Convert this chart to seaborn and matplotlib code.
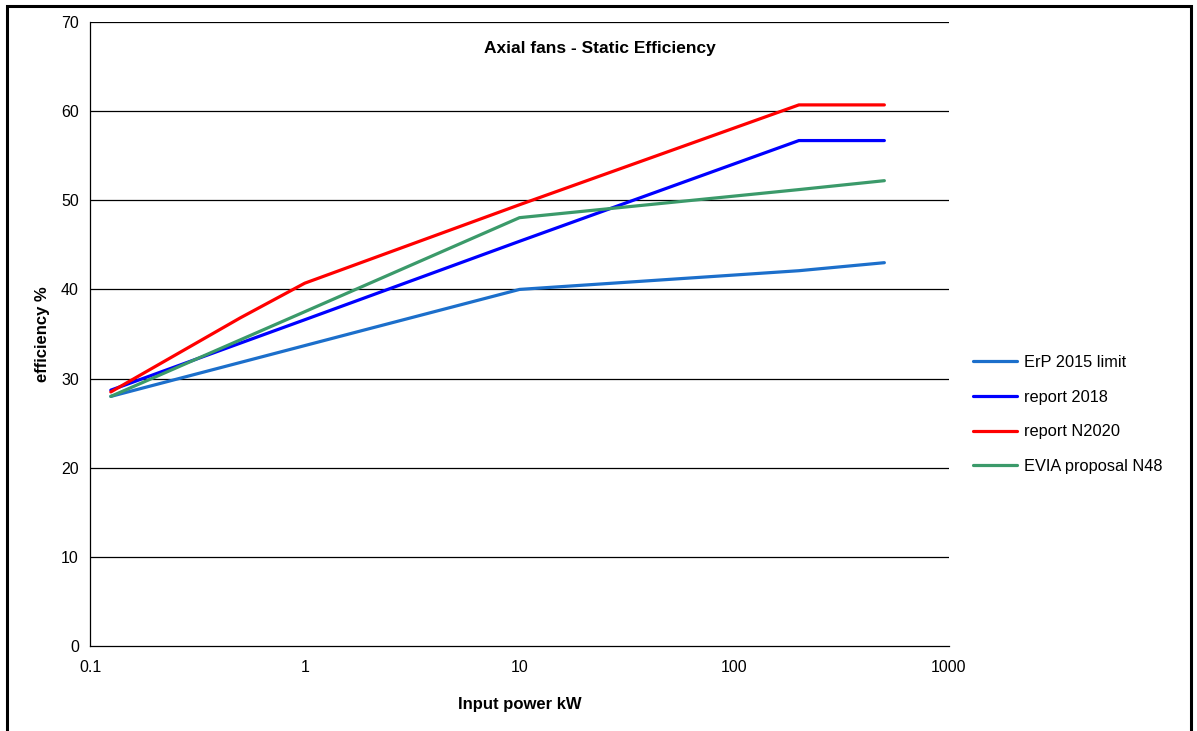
import numpy as np
import pandas as pd
import matplotlib
matplotlib.use("Agg")
import matplotlib.pyplot as plt
from matplotlib.patches import Rectangle
from matplotlib.ticker import FixedLocator, FixedFormatter, NullLocator
import seaborn as sns

# ---- data ----
erp_x = [0.125, 1, 2, 10, 200, 500]
erp_y = [28.0, 33.7, 35.6, 40.0, 42.1, 43.0]

r2018_x = [0.125, 1, 10, 200, 500]
r2018_y = [28.7, 36.6, 45.4, 56.7, 56.7]

n2020_x = [0.125, 0.5, 1, 10, 200, 500]
n2020_y = [28.5, 36.8, 40.7, 49.5, 60.7, 60.7]

evia_x = [0.125, 1, 10, 200, 500]
evia_y = [28.0, 37.5, 48.05, 51.2, 52.2]

series_names = ["ErP 2015 limit", "report 2018", "report N2020", "EVIA proposal N48"]
series_colors = ["#1C6FCB", "#0000FF", "#FF0000", "#3B9A6A"]

x_ticks = [0.1, 1, 10, 100, 1000]
x_tick_labels = ["0.1", "1", "10", "100", "1000"]
y_ticks = [0, 10, 20, 30, 40, 50, 60, 70]

frames = []
for name, xs, ys in zip(series_names,
                        [erp_x, r2018_x, n2020_x, evia_x],
                        [erp_y, r2018_y, n2020_y, evia_y]):
    frames.append(pd.DataFrame({"power": xs, "eff": ys, "series": name}))
df = pd.concat(frames, ignore_index=True)

sns.set_theme(style="white")
plt.rcParams["font.family"] = ["Liberation Sans", "DejaVu Sans"]
plt.rcParams["text.color"] = "black"
plt.rcParams["axes.labelcolor"] = "black"

fig = plt.figure(figsize=(11.97, 7.31), dpi=100)
ax = fig.add_axes([90 / 1197, 1 - 646 / 731, (949 - 90) / 1197, (646 - 22) / 731])

sns.lineplot(data=df, x="power", y="eff", hue="series", hue_order=series_names,
             palette=dict(zip(series_names, series_colors)), linewidth=2.3,
             sort=False, estimator=None, ax=ax, legend=True)

ax.set_xscale("log")
ax.set_xlim(0.1, 1000)
ax.set_ylim(0, 70)
ax.xaxis.set_major_locator(FixedLocator(x_ticks))
ax.xaxis.set_major_formatter(FixedFormatter(x_tick_labels))
ax.xaxis.set_minor_locator(NullLocator())
ax.set_yticks(y_ticks)

for yv in y_ticks[1:]:
    ax.axhline(yv, color="black", linewidth=0.9, zorder=0)

for s in ["top", "right"]:
    ax.spines[s].set_visible(False)
for s in ["left", "bottom"]:
    ax.spines[s].set_color("black")
    ax.spines[s].set_linewidth(0.9)

ax.tick_params(axis="both", which="major", direction="out", length=5, width=0.9,
               color="black", labelsize=11.5, labelcolor="black")
ax.tick_params(axis="x", pad=5)
ax.tick_params(axis="y", pad=3)

ax.set_xlabel("Input power kW", fontsize=12, fontweight="bold", labelpad=16, color="black")
ax.set_ylabel("efficiency %", fontsize=12, fontweight="bold", labelpad=8, color="black")

ax.text(0.594, 0.957, "Axial fans - Static Efficiency", transform=ax.transAxes,
        ha="center", va="center", fontsize=12.5, fontweight="bold", color="black")

handles, labels = ax.get_legend_handles_labels()
leg = ax.legend(handles, labels, loc="center left",
                bbox_to_anchor=(973 / 1197, 1 - 414.5 / 731), bbox_transform=fig.transFigure,
                frameon=False, fontsize=11.8, handlelength=2.7, handletextpad=0.4,
                labelspacing=1.2, borderpad=0, borderaxespad=0)
for t in leg.get_texts():
    t.set_color("black")

fig.patches.append(Rectangle((7 / 1197, -0.05), (1191 - 7) / 1197, 1.05 - 6 / 731,
                             transform=fig.transFigure, fill=False,
                             edgecolor="black", linewidth=2.2, zorder=10))

fig.savefig("out.png", dpi=100)
